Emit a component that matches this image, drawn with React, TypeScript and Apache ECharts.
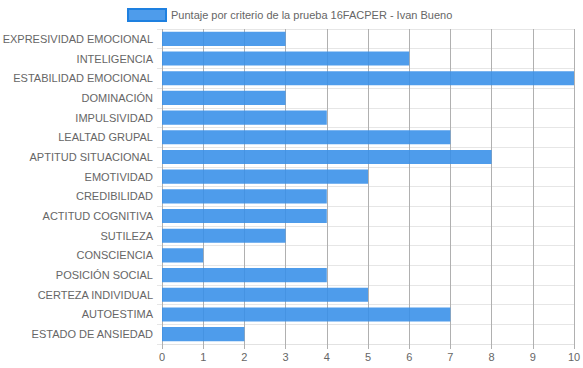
import React, { useEffect, useRef } from "react";
import * as echarts from "echarts";

const categories = [
  "EXPRESIVIDAD EMOCIONAL",
  "INTELIGENCIA",
  "ESTABILIDAD EMOCIONAL",
  "DOMINACIÓN",
  "IMPULSIVIDAD",
  "LEALTAD GRUPAL",
  "APTITUD SITUACIONAL",
  "EMOTIVIDAD",
  "CREDIBILIDAD",
  "ACTITUD COGNITIVA",
  "SUTILEZA",
  "CONSCIENCIA",
  "POSICIÓN SOCIAL",
  "CERTEZA INDIVIDUAL",
  "AUTOESTIMA",
  "ESTADO DE ANSIEDAD",
];
const scores = [3, 6, 10, 3, 4, 7, 8, 5, 4, 4, 3, 1, 4, 5, 7, 2];
const seriesName = "Puntaje por criterio de la prueba 16FACPER - Ivan Bueno";

export default function App() {
  const ref = useRef<HTMLDivElement>(null);
  useEffect(() => {
    if (!ref.current) return;
    const chart = echarts.init(ref.current, undefined, { renderer: "svg" });
    const font = "'Liberation Sans', Arial, Helvetica, sans-serif";
    chart.setOption({
      animation: false,
      textStyle: { fontFamily: font },
      legend: {
        top: 8,
        left: 127,
        padding: 0,
        icon: "rect",
        itemWidth: 38,
        itemHeight: 12,
        itemGap: 10,
        textStyle: { color: "#666", fontSize: 11, fontFamily: font },
        data: [{ name: seriesName, itemStyle: { color: "rgba(54,142,232,0.88)", borderColor: "#1e80e0", borderWidth: 2 } }],
      },
      grid: { left: 162, right: 9, top: 29, bottom: 24, containLabel: false, outerBoundsMode: "none" },
      xAxis: {
        type: "value",
        min: 0,
        max: 10,
        interval: 1,
        axisLine: { show: true, lineStyle: { color: "#e2e2e2" } },
        axisTick: { show: true, length: 5, lineStyle: { color: "#b0b0b0" } },
        axisLabel: { color: "#666", fontSize: 11, fontFamily: font, margin: 7 },
        splitLine: { show: true, lineStyle: { color: "#b0b0b0", width: 1 } },
      },
      yAxis: {
        type: "category",
        inverse: true,
        data: categories,
        axisLine: { show: false },
        axisTick: { show: true, length: 5, lineStyle: { color: "#e6e6e6" } },
        axisLabel: { color: "#666", fontSize: 11, fontFamily: font, margin: 9 },
        splitLine: { show: true, lineStyle: { color: "#e6e6e6", width: 1 } },
      },
      series: [
        {
          name: seriesName,
          type: "bar",
          data: scores,
          barWidth: "72%",
          itemStyle: { color: "rgba(54,142,232,0.88)" },
          z: 3,
        },
      ],
    });
    return () => chart.dispose();
  }, []);
  return (
    <div
      ref={ref}
      style={{ position: "absolute", left: 0, top: 0, width: 583, height: 368 }}
    />
  );
}
